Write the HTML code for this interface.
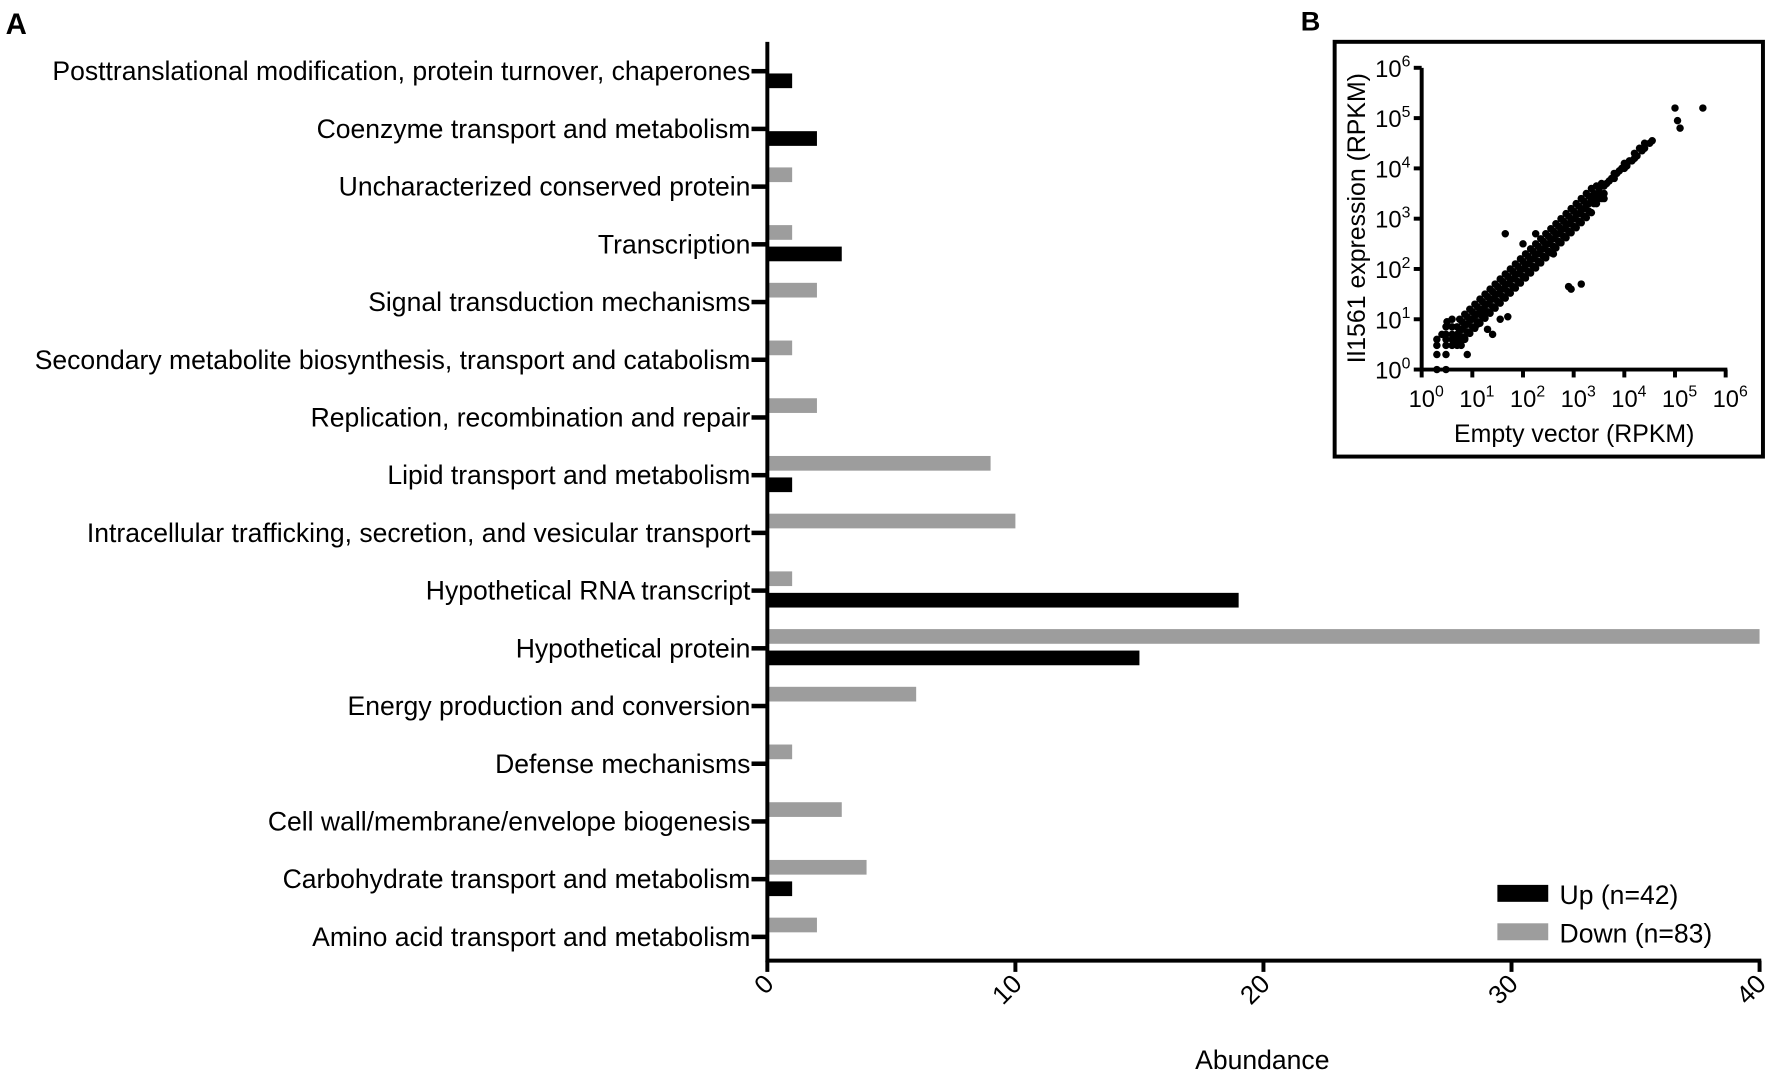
<!DOCTYPE html>
<html><head><meta charset="utf-8"><style>
html,body{margin:0;padding:0;background:#fff}
svg{display:block;font-family:"Liberation Sans",Arial,sans-serif}
</style></head><body>
<svg id="fig" width="1772" height="1077" viewBox="0 0 1568 953" xmlns="http://www.w3.org/2000/svg">
<text x="5" y="30" font-size="26" font-weight="bold">A</text>
<text x="1151" y="27" font-size="24" font-weight="bold">B</text>
<g id="bars"></g>
<g id="inset"></g>
</svg>
<script>
const categories=["Posttranslational modification, protein turnover, chaperones","Coenzyme transport and metabolism","Uncharacterized conserved protein","Transcription","Signal transduction mechanisms","Secondary metabolite biosynthesis, transport and catabolism","Replication, recombination and repair","Lipid transport and metabolism","Intracellular trafficking, secretion, and vesicular transport","Hypothetical RNA transcript","Hypothetical protein","Energy production and conversion","Defense mechanisms","Cell wall/membrane/envelope biogenesis","Carbohydrate transport and metabolism","Amino acid transport and metabolism"];
const upValues=[1,2,0,3,0,0,0,1,0,19,15,0,0,0,1,0];
const downValues=[0,0,1,1,2,1,2,9,10,1,40,6,1,3,4,2];
const xTicks=[0,10,20,30,40];
const logTicks=[0,1,2,3,4,5,6];
const empX=[0.3,0.48,0.3,0.3,0.3,0.48,0.48,0.48,0.48,0.48,0.6,0.6,0.6,0.6,0.6,0.7,0.7,0.78,0.9,0.85,
0.7,0.7,0.7,0.8,0.8,0.8,0.9,0.9,0.9,1.0,1.0,1.0,1.1,1.1,1.1,1.2,1.2,1.2,1.3,1.3,1.3,1.4,1.4,1.4,1.5,1.5,1.5,1.6,1.6,1.6,1.7,1.7,1.7,1.8,1.8,1.8,1.9,1.9,1.9,2.0,2.0,2.0,2.1,2.1,2.1,2.2,2.2,2.2,2.3,2.3,2.3,2.4,2.4,2.4,2.5,2.5,2.5,2.6,2.6,2.6,2.7,2.7,2.7,2.8,2.8,2.8,2.9,2.9,2.9,3.0,3.0,3.0,3.1,3.1,3.1,3.2,3.2,3.2,3.3,3.3,3.3,3.4,3.4,3.4,3.5,3.5,3.5,3.6,3.6,3.7,3.8,3.8,3.9,4.0,4.0,4.1,4.2,4.2,4.3,4.4,4.4,
0.75,0.85,0.95,1.05,1.15,1.25,1.35,1.45,1.55,1.65,1.75,1.85,1.95,2.05,2.15,2.25,2.35,2.45,2.55,2.65,2.75,2.85,2.95,3.05,3.15,3.25,3.35,
0.75,0.85,0.95,1.05,1.15,1.25,1.35,1.45,1.55,1.65,1.75,1.85,1.95,2.05,2.15,2.25,2.35,2.45,2.55,2.65,2.75,2.85,2.95,3.05,3.15,3.25,3.35,3.45,3.55,
0.75,0.85,0.95,1.05,1.15,1.25,1.35,1.45,1.55,1.65,1.75,1.85,1.95,2.05,2.15,2.25,2.35,2.45,2.55,2.65,2.75,2.85,2.95,3.05,3.15,3.25,3.35,3.45,3.55,
3.65,3.75,3.85,3.95,4.05,4.15,4.25,4.35,4.5,4.55,
5.0,5.05,5.1,5.55,2.9,2.95,3.15,1.55,1.7,1.3,1.4,2.0,2.25,1.65,3.6,1.1,1.2,2.6,0.4,0.5];
const ilY=[0,0,0.3,0.48,0.6,0.3,0.48,0.6,0.7,0.85,0.48,0.6,0.7,0.85,1.0,0.48,0.6,0.48,0.3,0.6,
0.55,0.7,0.85,0.65,0.8,0.95,0.75,0.9,1.05,0.85,1.0,1.15,0.95,1.1,1.25,1.05,1.2,1.35,1.15,1.3,1.45,1.25,1.4,1.55,1.35,1.5,1.65,1.45,1.6,1.75,1.55,1.7,1.85,1.65,1.8,1.95,1.75,1.9,2.05,1.85,2.0,2.15,1.95,2.1,2.25,2.05,2.2,2.35,2.15,2.3,2.45,2.25,2.4,2.55,2.35,2.5,2.65,2.45,2.6,2.75,2.55,2.7,2.85,2.65,2.8,2.95,2.75,2.9,3.05,2.85,3.0,3.15,2.95,3.1,3.25,3.05,3.2,3.35,3.15,3.3,3.45,3.3,3.4,3.5,3.4,3.5,3.6,3.5,3.65,3.75,3.8,3.9,3.95,4.0,4.1,4.15,4.2,4.3,4.4,4.4,4.5,
0.78,0.88,0.98,1.08,1.18,1.28,1.38,1.48,1.58,1.68,1.78,1.88,1.98,2.08,2.18,2.28,2.38,2.48,2.58,2.68,2.78,2.88,2.98,3.08,3.18,3.28,3.38,
1.0,1.1,1.2,1.3,1.4,1.5,1.6,1.7,1.8,1.9,2.0,2.1,2.2,2.3,2.4,2.5,2.6,2.7,2.8,2.9,3.0,3.1,3.2,3.3,3.4,3.5,3.6,3.65,3.7,
0.55,0.62,0.72,0.82,0.92,1.02,1.12,1.22,1.32,1.42,1.52,1.62,1.72,1.82,1.92,2.02,2.12,2.22,2.32,2.42,2.52,2.62,2.72,2.82,2.92,3.02,3.12,3.3,3.4,
3.7,3.8,3.9,4.0,4.05,4.15,4.25,4.35,4.5,4.55,
5.2,4.95,4.8,5.2,1.65,1.6,1.7,1.0,1.05,0.8,0.7,2.5,2.7,2.7,3.4,0.9,1.1,2.3,0.7,0.95];

const NS="http://www.w3.org/2000/svg";
function mk(parent,tag,attrs){const e=document.createElementNS(NS,tag);for(const k in attrs)e.setAttribute(k,attrs[k]);parent.appendChild(e);return e;}

const bars=document.getElementById('bars');
const X0=679,X40=1557,YT=37,YB=850;
function xScale(v){return X0+v*(X40-X0)/40;}
function rowY(i){return 63+i*(829-63)/(categories.length-1);}
categories.forEach((c,i)=>{
  const ty=rowY(i);
  const t=mk(bars,'text',{x:664,y:ty+8,'font-size':23.5,'text-anchor':'end'});
  t.textContent=c;
  
  
  const tk=mk(bars,'line',{x1:665,x2:X0,y1:ty,y2:ty,stroke:'#000','stroke-width':4});
  
  
  if(downValues[i]>0){
    const r=mk(bars,'rect',{x:X0,y:ty-17,width:xScale(downValues[i])-X0,height:13,fill:'#9d9d9d'});
    
    
  }
  if(upValues[i]>0){
    const r=mk(bars,'rect',{x:X0,y:ty+2,width:xScale(upValues[i])-X0,height:13,fill:'#000'});
    
    
  }
});
const ya=mk(bars,'line',{x1:X0,x2:X0,y1:YT,y2:YB+1.5,stroke:'#000','stroke-width':3.5});


const xa=mk(bars,'line',{x1:X0-1.5,x2:X40+1.5,y1:YB,y2:YB,stroke:'#000','stroke-width':3.5});


xTicks.forEach(v=>{
  const x=xScale(v);
  const l=mk(bars,'line',{x1:x,x2:x,y1:YB,y2:YB+10,stroke:'#000','stroke-width':3.5});
  
  
  const t=mk(bars,'text',{x:x+7,y:YB+22,'font-size':23,'text-anchor':'end',transform:`rotate(-45 ${x+7} ${YB+22})`});
  t.textContent=v;
  
  
});
const xt=mk(bars,'text',{x:1117,y:946,'font-size':23.5,'text-anchor':'middle'});
xt.textContent='Abundance';


[['#000','Up (n=42)',791],['#9d9d9d','Down (n=83)',825]].forEach(([c,lab,y])=>{
  const r=mk(bars,'rect',{x:1325,y:y-8,width:45,height:15,fill:c});
  
  
  const t=mk(bars,'text',{x:1380,y:y+9,'font-size':23.5});
  t.textContent=lab;
  
  
});

const ins=document.getElementById('inset');
const IX0=1258,IX6=1527,IY0=327,IY6=60;
function lx(v){return IX0+v*(IX6-IX0)/6;}
function ly(v){return IY0-v*(IY0-IY6)/6;}
const box=mk(ins,'rect',{x:1181,y:37,width:379,height:367,fill:'#fff',stroke:'#000','stroke-width':3.5});


empX.forEach((v,i)=>{
  const c=mk(ins,'circle',{cx:lx(v),cy:ly(ilY[i]),r:3.3,fill:'#000'});
  
  
});
const iya=mk(ins,'line',{x1:IX0,x2:IX0,y1:IY6,y2:IY0+1.5,stroke:'#000','stroke-width':3.5});


const ixa=mk(ins,'line',{x1:IX0-1.5,x2:IX6+1.5,y1:IY0,y2:IY0,stroke:'#000','stroke-width':3.5});


logTicks.forEach(v=>{
  const y=ly(v),x=lx(v);
  const a=mk(ins,'line',{x1:IX0-7,x2:IX0,y1:y,y2:y,stroke:'#000','stroke-width':3.5});
  
  
  const b=mk(ins,'line',{x1:x,x2:x,y1:IY0,y2:IY0+7,stroke:'#000','stroke-width':3.5});
  
  
  const t=mk(ins,'text',{x:IX0-10,y:y+8,'font-size':21,'text-anchor':'end'});
  t.innerHTML='10<tspan dy="-9" font-size="14">'+v+'</tspan>';
  
  
  const u=mk(ins,'text',{x:x+4,y:IY0+33,'font-size':21,'text-anchor':'middle'});
  u.innerHTML='10<tspan dy="-9" font-size="14">'+v+'</tspan>';
  
  
});
const ixt=mk(ins,'text',{x:1393,y:391,'font-size':22,'text-anchor':'middle'});
ixt.textContent='Empty vector (RPKM)';


const iyt=mk(ins,'text',{x:1208,y:193,'font-size':22,'text-anchor':'middle',transform:'rotate(-90 1208 193)'});
iyt.textContent='Il1561 expression (RPKM)';


</script>
</body></html>
